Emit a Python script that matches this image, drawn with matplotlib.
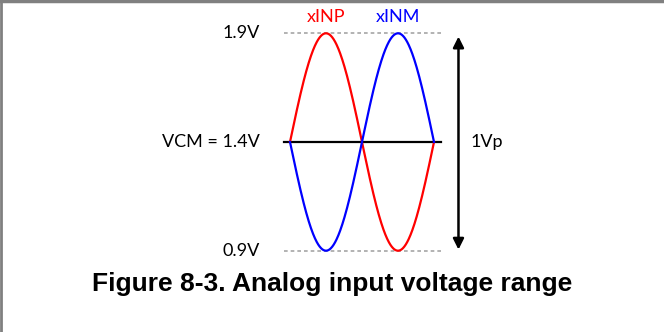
import numpy as np
import matplotlib.pyplot as plt
from matplotlib.lines import Line2D

# voltage levels (V)
v_high = 1.9
v_cm = 1.4
v_low = 0.9
labels = ["1.9V", "VCM = 1.4V", "0.9V"]
label_levels = [v_high, v_cm, v_low]
signal_names = ["xINP", "xINM"]
signal_colors = ["#ff0000", "#0000ff"]
signal_signs = [1, -1]
span_label = "1Vp"
title = "Figure 8-3. Analog input voltage range"

phase = np.linspace(0, 1, 400)
amp = (v_high - v_low) / 2

fig = plt.figure(figsize=(6.64, 3.32), dpi=100)
ax = fig.add_axes([0, 0, 1, 1])
# one period = 144 px, wave starts at x=290; 1 V = 217 px, 1.9V at y=33
ax.set_xlim(-290 / 144, (664 - 290) / 144)
ax.set_ylim(v_high - (332 - 33.3) / 217.4, v_high + 33.3 / 217.4)
ax.axis("off")

font = "Lato"
fs = 13

# dashed limit lines
for v in [v_high, v_low]:
    ax.plot([-0.04, 1.07], [v, v], color="#a6a6a6", lw=1.2, ls=(0, (2.2, 1.8)))

# common mode line
ax.plot([-0.04, 1.05], [v_cm, v_cm], color="black", lw=1.6)

# sine waves
for name, col, s, pk in zip(signal_names, signal_colors, signal_signs, [0.25, 0.75]):
    ax.plot(phase, v_cm + s * amp * np.sin(2 * np.pi * phase), color=col, lw=1.6)
    ax.text(pk, v_high + 0.075, name, color=col, ha="center", va="center",
            fontsize=fs, family=font)

# level labels
for lab, v in zip(labels, label_levels):
    ax.text(-0.21, v, lab, ha="right", va="center", fontsize=fs, family=font)

# double arrow
ax.annotate("", xy=(1.17, v_low + 0.005), xytext=(1.17, v_high - 0.015),
            arrowprops=dict(arrowstyle="<|-|>", color="black", lw=1.8,
                            mutation_scale=16, shrinkA=0, shrinkB=0))
ax.text(1.255, v_cm, span_label, ha="left", va="center", fontsize=fs, family=font)

# caption
ax.text(42 / 144, v_high - (284 - 33.3) / 217.4, title, ha="center", va="center",
        fontsize=19, fontweight="bold", family="Liberation Sans")

# frame edges
fig.add_artist(Line2D([0, 1], [0.998, 0.998], color="#808080", lw=2.5))
fig.add_artist(Line2D([0.001, 0.001], [0, 1], color="#808080", lw=2))

fig.savefig("out.png", dpi=100)
